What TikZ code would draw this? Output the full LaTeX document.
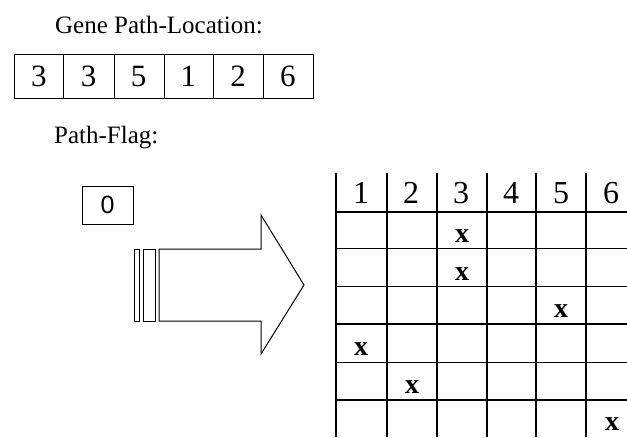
\documentclass[tikz,border=0pt]{standalone}
\usepackage{fontspec}
\setmainfont{Liberation Serif}
\newfontfamily\zerofont{Liberation Sans}
\begin{document}
\begin{tikzpicture}[x=1pt,y=-1pt,
  thinline/.style={line width=1pt,black},
  gridline/.style={line width=1.4pt,black},
  title/.style={font=\fontsize{25}{28}\selectfont,anchor=base west,inner sep=0pt},
  cell/.style={font=\fontsize{31}{34}\selectfont,anchor=base,inner sep=0pt},
  head/.style={font=\fontsize{32}{35}\selectfont,anchor=base,inner sep=0pt},
  xmark/.style={font=\bfseries\fontsize{28}{30}\selectfont,anchor=base,inner sep=0pt}]
\useasboundingbox (0,0) rectangle (627,437);
% titles
\node[title] (t1) at (55,33) {Gene Path-Location:};
\node[title] (t2) at (54,143) {Path-Flag:};
% gene array
\draw[thinline] (14,54) rectangle (313,98);
\foreach \x in {63,114,164,213,263} \draw[thinline] (\x,54) -- (\x,98);
\foreach \v [count=\i] in {3,3,5,1,2,6}
  \node[cell] (g\i) at ({14+49.8*(\i-0.5)},86) {\v};
% flag box
\draw[thinline] (82,186) rectangle (133,224);
\node[font=\zerofont\fontsize{25}{28}\selectfont,inner sep=0pt] (flag) at (107.5,205) {0};
% arrow
\draw[thinline] (134,249) rectangle (139,321);
\draw[thinline] (143,249) rectangle (155,321);
\draw[thinline,line join=miter] (159,249) -- (261,249) -- (261,215) -- (304,285) -- (261,354) -- (261,321) -- (159,321) -- cycle;
% grid
\foreach \y in {212,248.5,286.7,324,362.3,400} \draw[gridline] (336,\y) -- (627,\y);
\foreach \x in {336,387,437,487,536,586} \draw[gridline] (\x,173) -- (\x,437);
\foreach \v [count=\i] in {1,2,3,4,5,6}
  \node[head] (h\i) at ({336+50*(\i-0.5)},203) {\v};
\node[xmark] (x1) at (462,242) {x};
\node[xmark] (x2) at (462,280) {x};
\node[xmark] (x3) at (561,317) {x};
\node[xmark] (x4) at (361,355) {x};
\node[xmark] (x5) at (412,393) {x};
\node[xmark] (x6) at (612,430) {x};
\end{tikzpicture}
\end{document}
